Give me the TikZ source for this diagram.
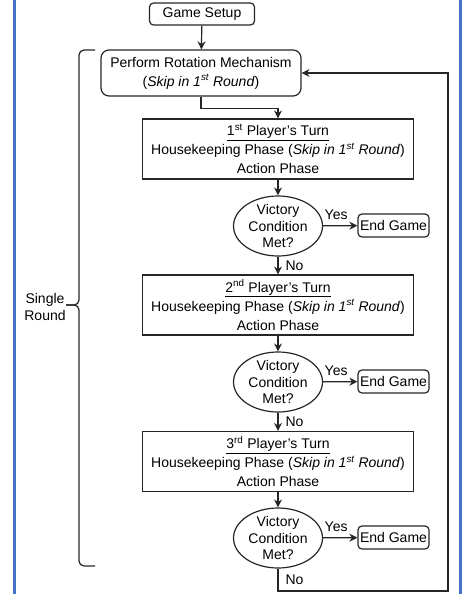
\documentclass[tikz,border=0pt]{standalone}
\usepackage{fontspec}
\setmainfont{Liberation Sans}
\usetikzlibrary{arrows.meta,shapes.geometric}
\definecolor{frameblue}{RGB}{68,114,196}

\begin{document}
\begin{tikzpicture}[x=1pt,y=-1pt,
    line width=1.2pt,
    >={Stealth[length=8pt,width=8pt]},
    base/.style={draw=black!85,align=center,inner sep=0pt,font=\fontsize{14}{19}\selectfont},
    rbox/.style={base,rounded corners=4pt},
    turnbox/.style={base,minimum width=271pt,minimum height=60pt},
    vic/.style={base,ellipse,minimum width=89pt,minimum height=60pt,inner ysep=-1pt,font=\fontsize{14}{16.8}\selectfont},
    endbox/.style={rbox,minimum width=71pt,minimum height=23pt},
    lbl/.style={font=\fontsize{14}{17}\selectfont,inner sep=0pt},
    yes/.style={lbl,pos=0.38,above=6pt},
    no/.style={lbl,right=7pt},
    every edge/.style={draw=black!85,->}]
  \useasboundingbox (0,0) rectangle (461,594);
  % frame
  \draw[frameblue,line width=3pt] (14,0) -- (14,594);
  \draw[frameblue,line width=3pt] (460,0) -- (460,594);
  \node[rbox,minimum width=105pt,minimum height=22pt] (setup) at (202,14) {Game Setup};
  \node[rbox,rounded corners=8pt,minimum width=200pt,minimum height=46pt] (rot) at (201,73)
    {Perform Rotation Mechanism\\ (\textit{Skip in 1\textsuperscript{st} Round})};
  \node[turnbox] (turn1) at (278,149) {\underline{1\textsuperscript{st} Player's Turn}\\
    Housekeeping Phase (\textit{Skip in 1\textsuperscript{st} Round})\\ Action Phase};
  \node[vic] (vic1) at (278,226) {Victory\\ Condition\\ Met?};
  \node[endbox] (end1) at (393.5,225.5) {End Game};
  \node[turnbox] (turn2) at (278,305) {\underline{2\textsuperscript{nd} Player's Turn}\\
    Housekeeping Phase (\textit{Skip in 1\textsuperscript{st} Round})\\ Action Phase};
  \node[vic] (vic2) at (278,382) {Victory\\ Condition\\ Met?};
  \node[endbox] (end2) at (393.5,381.5) {End Game};
  \node[turnbox] (turn3) at (278,461.5) {\underline{3\textsuperscript{rd} Player's Turn}\\
    Housekeeping Phase (\textit{Skip in 1\textsuperscript{st} Round})\\ Action Phase};
  \node[vic] (vic3) at (278,538) {Victory\\ Condition\\ Met?};
  \node[endbox] (end3) at (393.5,537.5) {End Game};
  \node[lbl,align=center] (round) at (45,307) {Single\\ Round};
  \draw (setup) edge (rot);
  \draw[draw=black!85,->] (rot.south) -- ++(0,12) -| (turn1.north);
  \draw (turn1) edge (vic1);
  \draw (vic1) edge node[yes] {Yes} (end1);
  \draw (vic1) edge node[no] {No} (turn2);
  \draw (turn2) edge (vic2);
  \draw (vic2) edge node[yes] {Yes} (end2);
  \draw (vic2) edge node[no] {No} (turn3);
  \draw (turn3) edge (vic3);
  \draw (vic3) edge node[yes] {Yes} (end3);
  % back to the rotation
  \coordinate (loopa) at (278,591);
  \coordinate (loopb) at (448,591);
  \coordinate (loopc) at (448,73);
  \draw[draw=black!85,->] (vic3.south) -- node[no] {No} (loopa) -- (loopb) -- (loopc) -- (rot.east);
  % brace
  \draw[draw=black!85,rounded corners=5pt] (66,305) -- (79,305) -- (79,50) -- (95,50);
  \draw[draw=black!85,rounded corners=5pt] (66,305) -- (79,305) -- (79,566) -- (95,566);
\end{tikzpicture}
\end{document}
